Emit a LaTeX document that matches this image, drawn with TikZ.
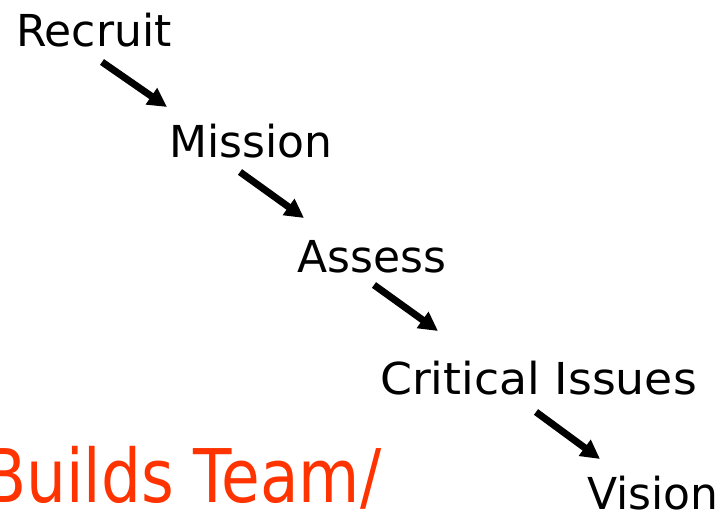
\documentclass[tikz,border=0pt]{standalone}
\usepackage{fontspec}
\setmainfont{DejaVu Sans}
\usetikzlibrary{arrows.meta}
\definecolor{teamred}{RGB}{255,51,0}
\tikzset{
  word/.style={anchor=base west, inner sep=0pt, font=\fontsize{44}{50}\selectfont},
  bigred/.style={anchor=base west, inner sep=0pt, text=teamred, font=\fontsize{74}{80}\selectfont},
  flow/.style={line width=7pt, -{Triangle[length=19pt,width=19pt]}}
}
\begin{document}
\begin{tikzpicture}[x=1pt,y=1pt]
\useasboundingbox (0,0) rectangle (727,513);
\node[word] (recruit) at (16,466) {Recruit};
\node[word] (mission) at (169,355) {Mission};
\node[word] (assess) at (297,240) {Assess};
\node[word] (critical) at (380,118) {\scalebox{1.04}[1]{Critical Issues}};
\node[word] (vision) at (587,3) {Vision};
\node[bigred] (builds) at (-17,10) {\scalebox{0.85}[1]{Builds Team/}};
\coordinate (a1s) at (102,451);
\coordinate (a1e) at (167,406);
\coordinate (a2s) at (240,341);
\coordinate (a2e) at (304,295);
\coordinate (a3s) at (374,228);
\coordinate (a3e) at (438,182);
\coordinate (a4s) at (536,101);
\coordinate (a4e) at (600,54);
\draw[flow] (a1s) -- (a1e);
\draw[flow] (a2s) -- (a2e);
\draw[flow] (a3s) -- (a3e);
\draw[flow] (a4s) -- (a4e);
\end{tikzpicture}
\end{document}
